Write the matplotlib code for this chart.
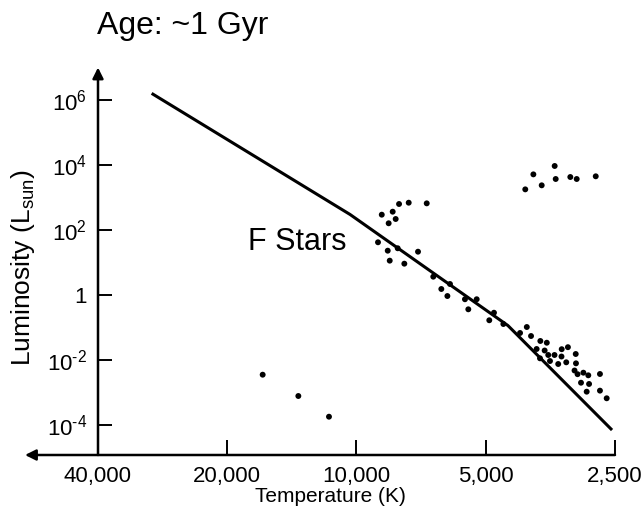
import numpy as np
import matplotlib
matplotlib.use('Agg')
import matplotlib.pyplot as plt

plt.rcParams['font.family'] = ['Liberation Sans', 'DejaVu Sans']
plt.rcParams['mathtext.fontset'] = 'custom'
plt.rcParams['mathtext.rm'] = 'Liberation Sans'
plt.rcParams['mathtext.it'] = 'Liberation Sans:italic'

# main sequence line (temperature K, luminosity Lsun)
ms_temp = [30000, 10350, 4440, 2540]
ms_lum = [1.6e6, 300, 0.115, 7.0e-5]

# giants (upper right)
giant_temp = [4045, 3873, 3704, 3455, 3436, 3177, 3070, 2772]
giant_lum = [1780, 5150, 2370, 9330, 3710, 4270, 3710, 4490]

# F stars / upper main sequence
f_temp = [8733, 8236, 7960, 7558, 6862, 8416, 8105, 8911, 8458, 8018, 7190,
          8368, 7737, 6625, 6345, 6142, 5590, 5490, 4784, 4906, 6057, 5249]
f_lum = [296, 366, 631, 692, 661, 161, 218, 41.9, 23.1, 27.4, 21.5,
         11.4, 9.2, 3.66, 1.53, 0.93, 0.74, 0.363, 0.285, 0.167, 2.18, 0.74]

# cool dwarfs (lower right)
m_temp = [4549, 4012, 3922, 3731, 3604, 3806, 3646, 3327, 3218, 3738, 3576,
          3458, 3331, 3543, 3390, 3247, 3086, 3082, 3106, 3056, 2962, 2885,
          2710, 3000, 2873, 2910, 2710, 2614, 4160]
m_lum = [0.128, 0.1035, 0.0547, 0.0385, 0.034, 0.0218, 0.0196, 0.0215, 0.0248,
         0.01127, 0.01426, 0.01426, 0.0128, 0.0093, 0.00753, 0.00849, 0.0153,
         0.0079, 0.00475, 0.00366, 0.00407, 0.00338, 0.00371, 0.002, 0.00183,
         0.00106, 0.00114, 0.000664, 0.0678]

# white dwarfs
wd_temp = [16540, 13660, 11590]
wd_lum = [0.00353, 0.00078, 0.00018]

x_ticks = [40000, 20000, 10000, 5000, 2500]
x_labels = ['40,000', '20,000', '10,000', '5,000', '2,500']
y_ticks = [1e-4, 1e-2, 1, 1e2, 1e4, 1e6]
y_labels = ['10$^{\u2010\\mathregular{4}}$', '10$^{\u2010\\mathregular{2}}$', '1',
            '10$^{\\mathregular{2}}$', '10$^{\\mathregular{4}}$', '10$^{\\mathregular{6}}$']

W, H = 643, 516
fig = plt.figure(figsize=(W / 100, H / 100), dpi=100)

# pixel layout: 40,000 K at x=98, 129.25 px per factor 2; 1e6 at y=100, 32.5 px per decade
px_oct, px_dec = 129.25, 32.5
left_px, right_px, top_px, bot_px = 25, 625, 60, 455
x_left = 40000 * 2 ** ((98 - left_px) / px_oct)
x_right = 40000 / 2 ** ((right_px - 98) / px_oct)
y_top = 10 ** (6 + (100 - top_px) / px_dec)
y_bot = 10 ** (6 - (bot_px - 100) / px_dec)

ax = fig.add_axes([left_px / W, (H - bot_px) / H, (right_px - left_px) / W, (bot_px - top_px) / H])
ax.set_xscale('log')
ax.set_yscale('log')
ax.set_xlim(x_left, x_right)
ax.set_ylim(y_bot, y_top)
ax.patch.set_visible(False)

ax.spines['left'].set_position(('data', 40000))
for s in ax.spines.values():
    s.set_visible(False)

# axes as arrows
ax.annotate('', xy=(40000, 1e7), xytext=(40000, y_bot),
            arrowprops=dict(arrowstyle='-|>', lw=1.8, color='black',
                            mutation_scale=16, shrinkA=0, shrinkB=0),
            annotation_clip=False)
ax.annotate('', xy=(x_left * 1.0, y_bot), xytext=(2500, y_bot),
            arrowprops=dict(arrowstyle='-|>', lw=1.8, color='black',
                            mutation_scale=16, shrinkA=0, shrinkB=0),
            annotation_clip=False)

ax.set_xticks(x_ticks)
ax.set_xticklabels(x_labels)
ax.set_yticks(y_ticks)
ax.set_yticklabels(y_labels)
ax.minorticks_off()
ax.tick_params(axis='x', direction='in', length=11, width=1.4, pad=8, labelsize=16)
ax.tick_params(axis='y', direction='in', length=10, width=1.4, pad=8, labelsize=16)

ax.plot(ms_temp, ms_lum, color='black', lw=2.2, solid_capstyle='butt')

for t, l in [(giant_temp, giant_lum), (f_temp, f_lum), (m_temp, m_lum), (wd_temp, wd_lum)]:
    ax.scatter(t, l, s=18, color='black', edgecolors='none', clip_on=False, zorder=3)

ax.text(17900, 24, 'F Stars', fontsize=22, ha='left', va='baseline')

fig.text(97 / W, 1 - 34 / H, 'Age: ~1 Gyr', fontsize=23, ha='left', va='baseline')
fig.text(330 / W, 1 - 497 / H, 'Temperature (K)', fontsize=15, ha='center', va='center')
fig.text(23 / W, 1 - 268 / H, r'Luminosity (L$_{\mathregular{sun}}$)', fontsize=19,
         rotation=90, ha='center', va='center')

fig.savefig('out.png', dpi=100)
